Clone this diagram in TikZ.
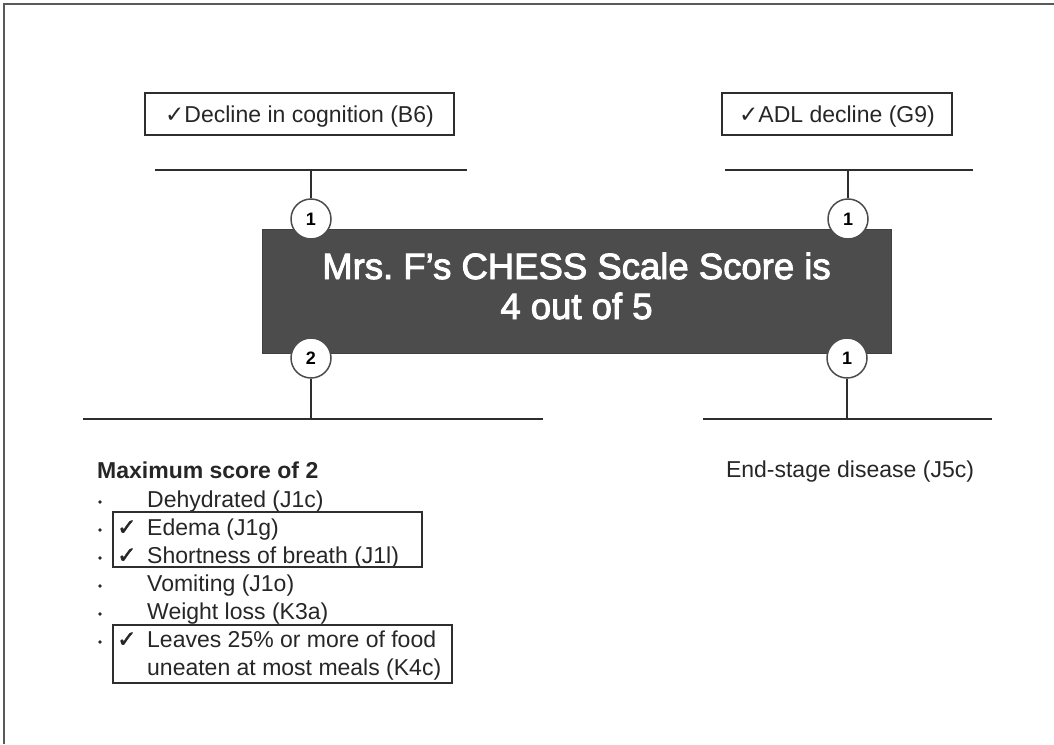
\documentclass[tikz,border=0pt]{standalone}
\usepackage{fontspec}
\setmainfont{Liberation Sans}
\newfontfamily\symfont{DejaVu Sans}
\newfontfamily\heavysym{DejaVu Sans}[FakeBold=2]
\newfontfamily\semibold{Liberation Sans}[FakeBold=2.6]
\frenchspacing
\begin{document}
\begin{tikzpicture}[x=1pt,y=-1pt,
  ink/.style={draw=black!82, line width=2.8pt},
  tagbox/.style={draw=black!82, line width=2.8pt, inner sep=0pt,
    text height=17pt, text depth=0pt,
    font=\fontsize{23}{28}\selectfont, text=black!85},
  frame/.style={draw=black!82, line width=2.8pt, inner sep=0pt},
  badge/.style={circle, draw=black!70, line width=1.5pt, fill=white,
    minimum size=40pt, inner sep=0pt, font=\bfseries\fontsize{18}{20}\selectfont},
  scorebox/.style={fill=black!70, draw=black!75, line width=0.8pt,
    minimum width=629pt, minimum height=124pt, inner sep=0pt},
  scoretext/.style={anchor=base, inner sep=0pt, text=white,
    font=\semibold\fontsize{36.5}{40}\selectfont},
  item/.style={anchor=base west, inner sep=0pt,
    font=\fontsize{23}{28}\selectfont, text=black!85},
  tick/.style={anchor=base west, inner sep=0pt,
    font=\heavysym\fontsize{23}{28}\selectfont, text=black!85},
  dot/.style={circle, fill=black!85, inner sep=0pt, minimum size=3.8pt}
]
\useasboundingbox (0,0) rectangle (1054,744);

% page edges
\draw[black!65, line width=1.6pt] (4,744) -- (4,4) -- (1054,4);

% indicator labels on top
\node[tagbox, minimum width=309pt, minimum height=42pt] (cog) at (299.5,114)
  {{\symfont ✓}Decline in cognition (B6)};
\node[tagbox, minimum width=230pt, minimum height=42pt] (adl) at (837,114)
  {{\symfont ✓}ADL decline (G9)};

% bars with their junction points
\coordinate (tlW) at (155,170); \coordinate (tlE) at (467,170); \coordinate (tlJ) at (311,170);
\coordinate (trW) at (725,170); \coordinate (trE) at (973,170); \coordinate (trJ) at (848,170);
\coordinate (blW) at (83,419);  \coordinate (blE) at (543,419); \coordinate (blJ) at (311,419);
\coordinate (brW) at (703,419); \coordinate (brE) at (992,419); \coordinate (brJ) at (847,419);
\draw[ink] (tlW) -- (tlE);
\draw[ink] (trW) -- (trE);
\draw[ink] (blW) -- (blE);
\draw[ink] (brW) -- (brE);

% central score
\node[scorebox] (score) at (576.5,291) {};
\node[scoretext] (line1) at (576.5,279) {Mrs. F’s CHESS Scale Score is};
\node[scoretext] (line2) at (576.5,319) {4 out of 5};

% score badges
\node[badge] (c1) at (311,219) {1};
\node[badge] (c2) at (848,219) {1};
\node[badge] (c3) at (311,358) {2};
\node[badge] (c4) at (847,358) {1};
\draw[ink] (tlJ) -- (c1);
\draw[ink] (trJ) -- (c2);
\draw[ink] (c3) -- (blJ);
\draw[ink] (c4) -- (brJ);

% end-stage disease
\node[item, anchor=base] (esd) at (850,477) {End-stage disease (J5c)};

% symptom list
\node[item, font=\bfseries\fontsize{23}{28}\selectfont] (max) at (97,478) {Maximum score of 2};
\foreach \y/\t/\n in {507/Dehydrated (J1c)/i1, 535/Edema (J1g)/i2,
    563/Shortness of breath (J1l)/i3, 591/Vomiting (J1o)/i4,
    619/Weight loss (K3a)/i5, 647/Leaves 25\% or more of food/i6}{
  \node[dot] (\n-dot) at (100,\y-5) {};
  \node[item] (\n) at (147,\y) {\t};
}
\node[item] (i6b) at (147,675) {uneaten at most meals (K4c)};
\node[tick] (k2) at (117,535) {✓};
\node[tick] (k3) at (117,563) {✓};
\node[tick] (k6) at (117,647) {✓};

% frames around the checked items
\node[frame, minimum width=309pt, minimum height=55pt] (grp1) at (267.5,539.5) {};
\node[frame, minimum width=339pt, minimum height=58pt] (grp2) at (282.5,654) {};
\end{tikzpicture}
\end{document}
